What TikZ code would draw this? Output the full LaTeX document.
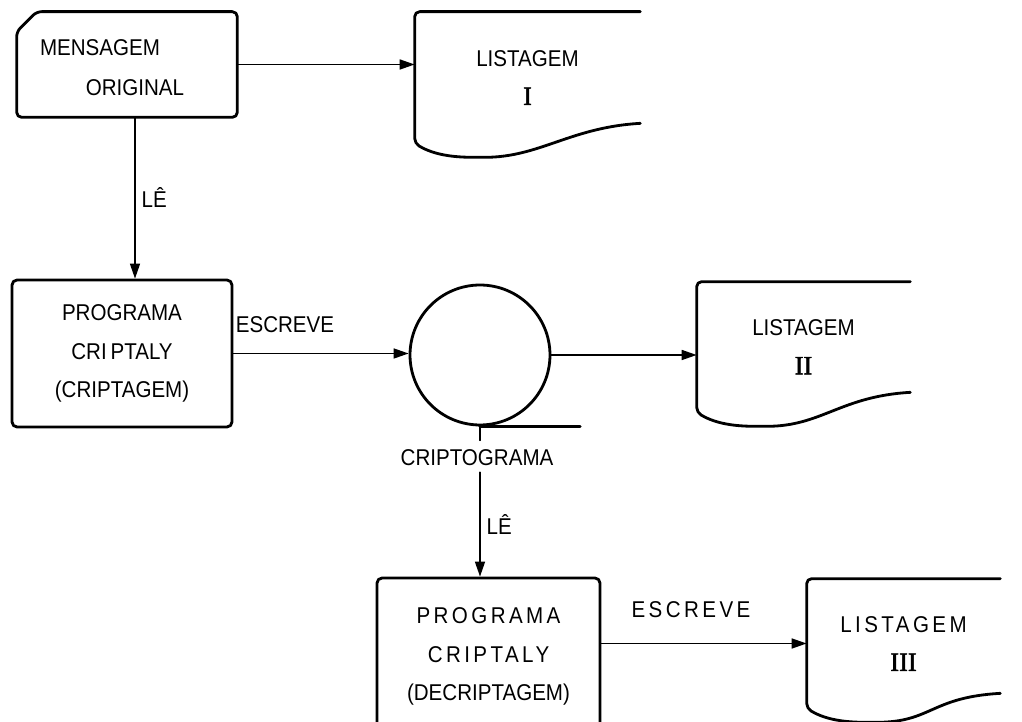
\documentclass[tikz,border=0pt]{standalone}
\usepackage{fontspec}
\setmainfont{Liberation Sans}[FakeStretch=0.9]
\newfontfamily\numfont{Liberation Serif}[FakeBold=2]
\usetikzlibrary{arrows.meta}
\newcommand\spaced[1]{{\addfontfeatures{LetterSpace=15}#1}}
% contorno de listagem (no, queda do lado direito)
\newcommand\docoutline[2]{%
  \draw[outline] (#1.north east) -- (#1.north west) -- (#1.south west)
    .. controls +(20,12) and +(-25,0) .. ++(65,14)
    .. controls +(60,0) and +(-70,4) .. ([yshift=#2]#1.south east);}

\begin{document}
\begin{tikzpicture}[x=0.02cm, y=-0.02cm, line cap=round, line join=round,
  every node/.style={font=\fontsize{13pt}{22pt}\selectfont},
  box/.style={draw, line width=1.6pt, rounded corners=1mm, align=center},
  shp/.style={inner sep=0pt, align=center},
  outline/.style={line width=1.6pt, rounded corners=1mm},
  arr/.style={line width=0.9pt, -{Triangle[length=3mm,width=2mm]}}]

  \clip (0,0) rectangle (1022,722);

  % cartao
  \node[shp, minimum width=4.4cm, minimum height=2.1cm] (msg) at (127,64.5) {};
  \draw[outline] ([yshift=-4mm]msg.north west) -- ([xshift=4mm]msg.north west)
    -- (msg.north east) -- (msg.south east) -- (msg.south west) -- cycle;
  \node (msg1) at (100,48) {MENSAGEM};
  \node (msg2) at (135,88) {ORIGINAL};

  % listagens
  \node[shp, minimum width=4.5cm, minimum height=2.62cm] (lst1) at (527.5,77.5) {LISTAGEM\\{\numfont\fontsize{15pt}{22pt}\selectfont I}};
  \docoutline{lst1}{4mm}
  \node[shp, minimum width=4.26cm, minimum height=2.6cm] (lst2) at (803.5,347) {LISTAGEM\\{\numfont\fontsize{15pt}{22pt}\selectfont II}};
  \docoutline{lst2}{4mm}
  \node[shp, minimum width=3.86cm, minimum height=2.58cm] (lst3) at (903.5,643.5) {\spaced{LISTAGEM}\\{\numfont\fontsize{15pt}{22pt}\selectfont III}};
  \docoutline{lst3}{3mm}

  % programas
  \node[box, minimum width=4.4cm, minimum height=2.94cm] (prog) at (122,353.5) {PROGRAMA\\CRI\,PTALY\\(CRIPTAGEM)};
  \node[box, minimum width=4.46cm, minimum height=3.14cm] (dec) at (488.5,656.5) {\spaced{PROGRAMA}\\\spaced{CRIPTALY}\\(DECRIPTAGEM)};

  % fita
  \node[draw, circle, line width=1.6pt, minimum size=2.8cm] (tape) at (480,355) {};
  \draw[line width=1.8pt] (tape.south) -- ++(100,0);
  \draw[line width=0.9pt] (tape.south) -- ++(0,14);
  \node (crypt) at (477,458) {CRIPTOGRAMA};

  % ligacoes
  \draw[arr] (msg.east) -- (msg.east -| lst1.west);
  \draw[arr] ([xshift=1.6mm]msg.south) -- ([xshift=1.6mm]msg.south |- prog.north)
    node[midway, right] {LÊ};
  \draw[arr] (prog.east) -- (prog.east -| tape.west);
  \node (wr1) at (285,325) {ESCREVE};
  \draw[arr] (tape.east) -- (tape.east -| lst2.west);
  \draw[arr] (tape.south |- crypt.south) -- (tape.south |- dec.north)
    node[midway, right] {LÊ};
  \draw[arr] (dec.east |- lst3.west) -- (lst3.west);
  \node (wr2) at (691,610) {\spaced{ESCREVE}};
\end{tikzpicture}
\end{document}
